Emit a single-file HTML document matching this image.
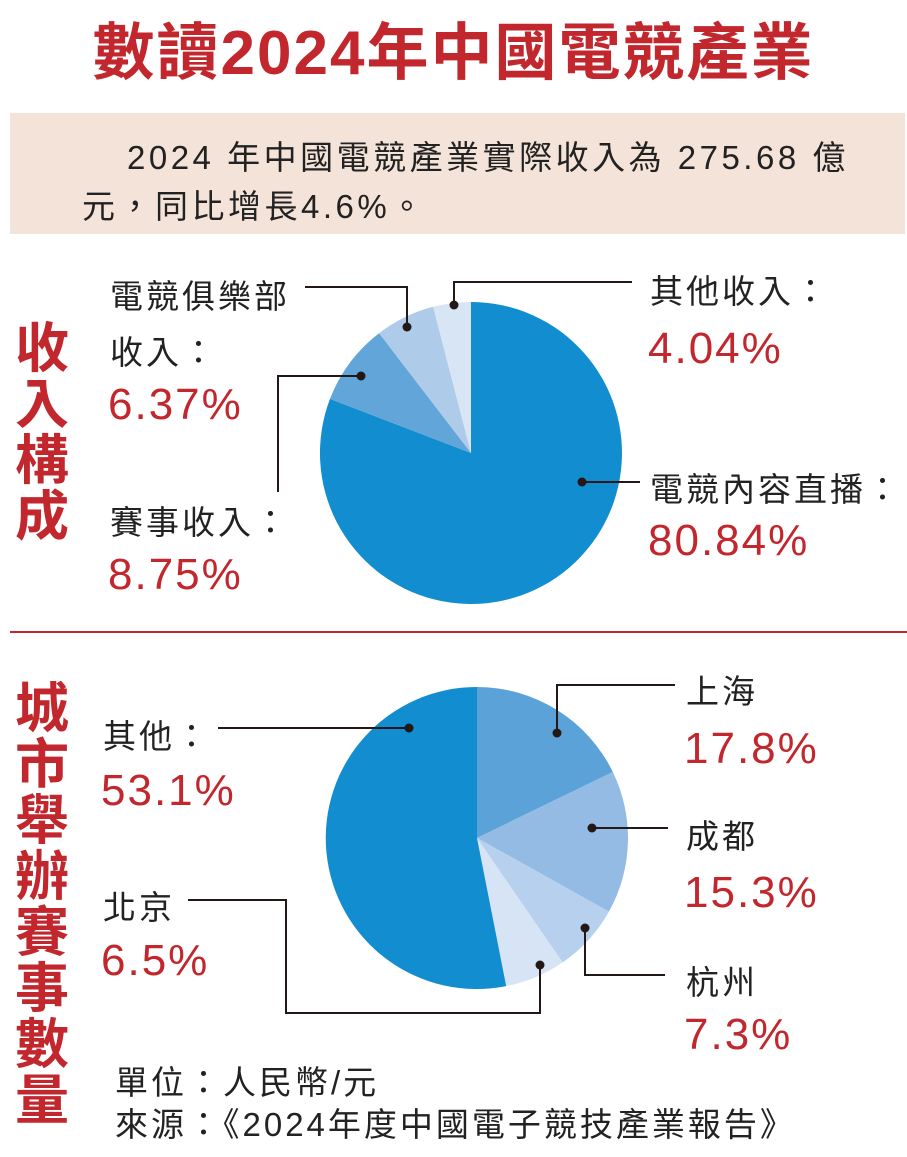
<!DOCTYPE html>
<html><head><meta charset="utf-8"><style>
body{margin:0;background:#fff;width:907px;height:1157px;overflow:hidden;position:relative;font-family:"Liberation Sans","Noto Sans CJK TC",sans-serif}
.a{position:absolute;white-space:nowrap}
.k{font-size:33px;color:#222;letter-spacing:3px}
.r{font-size:44px;color:#c1272d;letter-spacing:2px}
.v{position:absolute;left:14px;width:56px;color:#c1272d;font-size:54px;font-weight:bold;line-height:56px;text-align:center;font-family:"Noto Sans CJK TC",sans-serif}
</style></head><body>
<div class="a" style="left:0;width:907px;top:2px;text-align:center;font-size:62px;font-weight:bold;color:#c1272d;letter-spacing:2px">數讀2024年中國電競產業</div>
<div class="a" style="left:10px;top:113px;width:895px;height:121px;background:#f4e3d8"></div>
<div class="a k" style="left:127px;top:131px;font-size:33px;letter-spacing:3.5px">2024 年中國電競產業實際收入為 275.68 億</div>
<div class="a k" style="left:82px;top:180px;font-size:33px;letter-spacing:3.5px">元，同比增長4.6%。</div>
<div class="a" style="left:10px;top:631px;width:897px;height:2px;background:#c1272d"></div>
<div class="v" style="top:316px">收<br>入<br>構<br>成</div>
<div class="v" style="top:676px">城<br>市<br>舉<br>辦<br>賽<br>事<br>數<br>量</div>
<svg class="a" style="left:0;top:0" width="907" height="1157">
<path d="M471,453 L471,302 A151,151 0 1 1 330.0,398.9 Z" fill="#118dd0"/>
<path d="M471,453 L330.0,398.9 A151,151 0 0 1 379.1,333.2 Z" fill="#62a5d9"/>
<path d="M471,453 L379.1,333.2 A151,151 0 0 1 433.1,306.8 Z" fill="#aecbea"/>
<path d="M471,453 L433.1,306.8 A151,151 0 0 1 471,302 Z" fill="#d8e5f5"/>
<path d="M477,838 L477,687 A151,151 0 0 1 612.8,772.0 Z" fill="#5aa2d8"/>
<path d="M477,838 L612.8,772.0 A151,151 0 0 1 608.9,911.6 Z" fill="#93bbe3"/>
<path d="M477,838 L608.9,911.6 A151,151 0 0 1 562.6,962.4 Z" fill="#b6d0ee"/>
<path d="M477,838 L562.6,962.4 A151,151 0 0 1 506.2,986.1 Z" fill="#d6e4f5"/>
<path d="M477,838 L506.2,986.1 A151,151 0 1 1 477,687 Z" fill="#118dd0"/>
<g stroke="#231815" stroke-width="2" fill="none">
<path d="M454,305 V282 H632"/>
<path d="M407,327 V287 H305"/>
<path d="M361,376 H278 V492"/>
<path d="M582,482 H640"/>
<path d="M409,728 H218"/>
<path d="M557,733 V685 H675"/>
<path d="M592,828 H668"/>
<path d="M585,928 V975 H665"/>
<path d="M540,965 V1013 H286 V900 H188"/>
</g>
<g fill="#231815">
<circle cx="454" cy="305" r="4.5"/><circle cx="407" cy="327" r="4.5"/><circle cx="361" cy="376" r="4.5"/><circle cx="582" cy="482" r="4.5"/>
<circle cx="409" cy="728" r="4.5"/><circle cx="557" cy="733" r="4.5"/><circle cx="592" cy="828" r="4.5"/><circle cx="585" cy="928" r="4.5"/><circle cx="540" cy="965" r="4.5"/>
</g>
</svg>
<div class="a k" style="left:110px;top:270px">電競俱樂部</div>
<div class="a k" style="left:110px;top:326px">收入：</div>
<div class="a r" style="left:108px;top:380px">6.37%</div>
<div class="a k" style="left:110px;top:496px">賽事收入：</div>
<div class="a r" style="left:108px;top:550px">8.75%</div>
<div class="a k" style="left:650px;top:265px">其他收入：</div>
<div class="a r" style="left:648px;top:324px">4.04%</div>
<div class="a k" style="left:650px;top:463px">電競內容直播：</div>
<div class="a r" style="left:648px;top:516px">80.84%</div>
<div class="a k" style="left:103px;top:710px">其他：</div>
<div class="a r" style="left:101px;top:766px">53.1%</div>
<div class="a k" style="left:103px;top:881px">北京</div>
<div class="a r" style="left:101px;top:936px">6.5%</div>
<div class="a k" style="left:686px;top:665px">上海</div>
<div class="a r" style="left:684px;top:724px">17.8%</div>
<div class="a k" style="left:686px;top:810px">成都</div>
<div class="a r" style="left:684px;top:868px">15.3%</div>
<div class="a k" style="left:686px;top:956px">杭州</div>
<div class="a r" style="left:684px;top:1010px">7.3%</div>
<div class="a k" style="left:115px;top:1056px">單位：人民幣/元</div>
<div class="a k" style="left:115px;top:1098px">來源：《2024年度中國電子競技產業報告》</div>
</body></html>
